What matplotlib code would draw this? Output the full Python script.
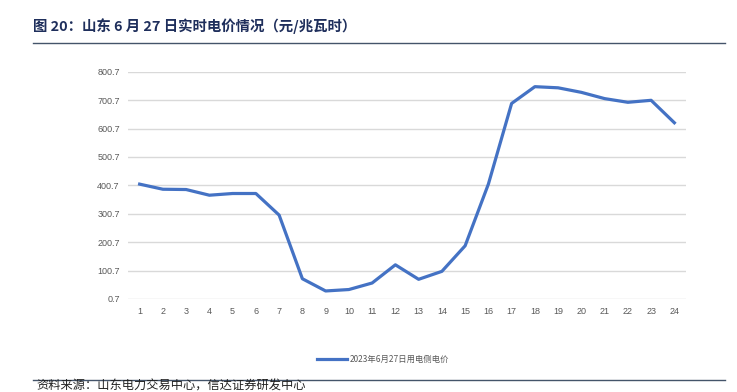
import matplotlib
matplotlib.use("Agg")
import matplotlib.pyplot as plt
from matplotlib.lines import Line2D

plt.rcParams['font.family'] = ['Noto Sans CJK SC', 'DejaVu Sans']

hours = list(range(1, 25))
prices = [405, 387, 386, 366, 372, 372, 296, 72, 29, 34, 57, 121, 70, 98, 188,
          405, 689, 748, 744, 728, 706, 693, 700, 621]
yticks = [0.7, 100.7, 200.7, 300.7, 400.7, 500.7, 600.7, 700.7, 800.7]
series_label = "2023年6月27日用电侧电价"
title = "图 20：山东 6 月 27 日实时电价情况（元/兆瓦时）"
source = "资料来源：山东电力交易中心，信达证券研发中心"

W, H = 737, 392
fig = plt.figure(figsize=(W / 100, H / 100), dpi=100)

ax = fig.add_axes([128 / W, 1 - 299 / H, (686 - 128) / W, (299 - 71.7) / H])
ax.plot(hours, prices, color='#4472C4', linewidth=2.3, solid_joinstyle='round', zorder=3)
ax.set_xlim(0.5, 24.5)
ax.set_ylim(0.7, 800.7)
ax.set_yticks(yticks)
ax.set_yticklabels([f"{v:.1f}" for v in yticks])
ax.set_xticks(hours)
ax.set_xticklabels([str(h) for h in hours])
ax.grid(axis='y', color='#d9d9d9', linewidth=1.0, zorder=0)
for s in ax.spines.values():
    s.set_visible(False)
ax.tick_params(axis='both', length=0, labelsize=6.5, labelcolor='#595959')
ax.tick_params(axis='y', pad=6)
ax.tick_params(axis='x', pad=6)
for lbl in ax.get_xticklabels() + ax.get_yticklabels():
    lbl.set_fontfamily('Liberation Sans')

# legend
fig.lines.append(Line2D([317 / W, 347 / W], [1 - 359 / H, 1 - 359 / H],
                        transform=fig.transFigure, color='#4472C4', linewidth=2.3))
fig.text(350 / W, 1 - 359 / H, series_label, fontsize=6, color='#595959',
         va='center', ha='left')

# title and rules
fig.text(33 / W, 1 - 26 / H, title, fontsize=10.4, fontweight='bold',
         color='#1f2f5c', va='center', ha='left')
fig.lines.append(Line2D([33 / W, 725 / W], [1 - 43 / H, 1 - 43 / H],
                        transform=fig.transFigure, color='#44546a', linewidth=1.0))
fig.lines.append(Line2D([33 / W, 725 / W], [1 - 379.5 / H, 1 - 379.5 / H],
                        transform=fig.transFigure, color='#44546a', linewidth=1.0))
fig.text(36 / W, 1 - 386 / H, source, fontsize=8.8, color='#222222',
         va='center', ha='left')

fig.savefig("out.png", dpi=100)
